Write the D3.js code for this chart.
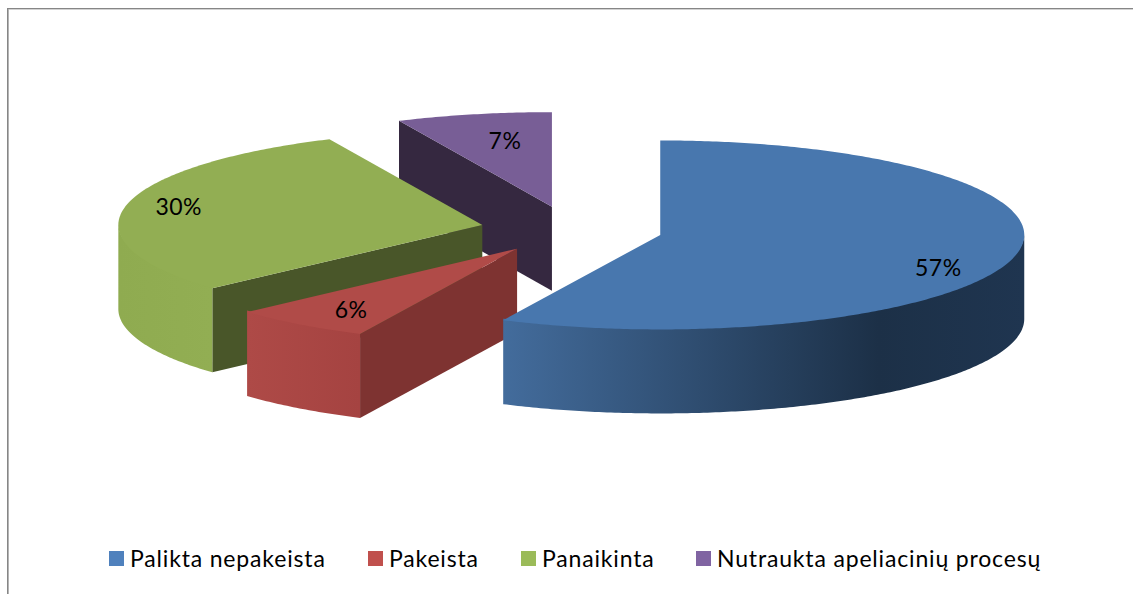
<!DOCTYPE html>
<html>
<head>
<meta charset="utf-8">
<script src="https://cdn.jsdelivr.net/npm/d3@7"></script>
<style>
html,body{margin:0;padding:0;background:#fff;overflow:hidden}
svg{display:block}
text{font-family:Lato,"Open Sans",sans-serif;fill:#000}
</style>
</head>
<body>
<svg id="chart" width="1133" height="594"></svg>
<script>
const categories = ["Palikta nepakeista", "Pakeista", "Panaikinta", "Nutraukta apeliacinių procesų"];
const values = [57.1, 6.2, 29.8, 6.9];
const topColors = ["#4877ae", "#b04b48", "#92ae53", "#785e96"];
const cutColors = ["#1d3149", "#7e3331", "#495629", "#352840"];
const rimLeftColors = ["#436c9c", "#ae4a47", "#8fab50", "#785e96"];
const rimRightColors = ["#1c3047", "#a54341", "#92ae53", "#785e96"];
const legendColors = ["#4f81bd", "#c0504d", "#9bbb59", "#8064a2"];

const W = 1133, H = 594;
const cx = 571.5, cy = 229.7, rx = 364, ry = 94.5, depth = 84, explode = 0.25;
const legendX = [109, 368, 521, 696];
const labelUnit = [[0.764, 0.349], [-0.456, 0.646], [-0.834, -0.2], [-0.129, -0.698]];

const svg = d3.select("#chart");
const defs = svg.append("defs");

svg.append("line").attr("x1", 7).attr("x2", W).attr("y1", 8.5).attr("y2", 8.5).attr("stroke", "#868686");
svg.append("line").attr("x1", 8).attr("x2", W).attr("y1", 9.5).attr("y2", 9.5).attr("stroke", "#d2d2d2");
svg.append("line").attr("x1", 7.5).attr("x2", 7.5).attr("y1", 8).attr("y2", H).attr("stroke", "#868686");
svg.append("line").attr("x1", 8.5).attr("x2", 8.5).attr("y1", 9).attr("y2", H).attr("stroke", "#b4b4b4");

const pie = d3.pie().sort(null).value(d => d);
const arcs = pie(values);
const ux = d3.scaleLinear().domain([-1, 1]).range([cx - rx, cx + rx]);
const uy = d3.scaleLinear().domain([-1, 1]).range([cy - ry, cy + ry]);
const line = d3.line();

arcs.forEach(a => { a.mid = (a.startAngle + a.endAngle) / 2; });
const sliceScales = arcs.map(a => ({
  x: u => ux(u + explode * Math.sin(a.mid)),
  y: u => uy(u - explode * Math.cos(a.mid))
}));
function rimPoint(s, t) { return [s.x(Math.sin(t)), s.y(-Math.cos(t))]; }
function arcPoints(s, t0, t1) {
  const n = Math.max(2, Math.ceil(Math.abs(t1 - t0) * 90));
  return d3.range(n + 1).map(i => rimPoint(s, t0 + (t1 - t0) * i / n));
}
function overlap(t0, t1, lo, hi) { return [Math.max(t0, lo), Math.min(t1, hi)]; }

const chart = svg.append("g");
[3, 2, 1, 0].forEach(i => {
  const a = arcs[i], s = sliceScales[i];
  const g = chart.append("g");
  const c = [s.x(0), s.y(0)];
  const faces = [];
  if (Math.sin(a.startAngle) < -1e-6) faces.push(a.startAngle);
  if (Math.sin(a.endAngle) > 1e-6) faces.push(a.endAngle);
  faces.forEach(t => {
    const p = rimPoint(s, t);
    g.append("path")
      .attr("d", line([c, p, [p[0], p[1] + depth], [c[0], c[1] + depth]]) + "Z")
      .attr("fill", cutColors[i]);
  });
  const [r0, r1] = overlap(a.startAngle, a.endAngle, Math.PI / 2, 3 * Math.PI / 2);
  if (r1 > r0) {
    const edge = arcPoints(s, r0, r1);
    const bottom = edge.map(p => [p[0], p[1] + depth]).reverse();
    // the rim's upper edge runs slightly under the top face so no seam shows
    const top = edge.map(p => [p[0], p[1] - 1.5]);
    const xs = edge.map(p => p[0]);
    const gid = "rim" + i;
    const gr = defs.append("linearGradient").attr("id", gid)
      .attr("gradientUnits", "userSpaceOnUse")
      .attr("x1", d3.min(xs)).attr("x2", d3.max(xs)).attr("y1", 0).attr("y2", 0);
    gr.append("stop").attr("offset", 0).attr("stop-color", rimLeftColors[i]);
    gr.append("stop").attr("offset", i === 0 ? 0.72 : 1).attr("stop-color", rimRightColors[i]);
    if (i === 0) gr.append("stop").attr("offset", 1).attr("stop-color", "#1f3550");
    g.append("path").attr("d", line(top.concat(bottom)) + "Z").attr("fill", `url(#${gid})`);
  }
  g.append("path")
    .attr("d", line([c].concat(arcPoints(s, a.startAngle, a.endAngle))) + "Z")
    .attr("fill", topColors[i]);
});

arcs.forEach((a, i) => {
  const s = sliceScales[i];
  chart.append("text")
    .attr("x", s.x(labelUnit[i][0]))
    .attr("y", s.y(labelUnit[i][1]) + 8.5)
    .attr("text-anchor", "middle")
    .attr("font-size", 23)
    .attr("letter-spacing", 0.5)
    .text(d3.format(".0f")(a.value) + "%");
});

const legend = svg.append("g");
categories.forEach((name, i) => {
  legend.append("rect").attr("x", legendX[i]).attr("y", 551).attr("width", 15).attr("height", 15).attr("fill", legendColors[i]);
  legend.append("text").attr("x", legendX[i] + 21).attr("y", 567).attr("font-size", 23).attr("letter-spacing", 0.83).text(name);
});
</script>
</body>
</html>
